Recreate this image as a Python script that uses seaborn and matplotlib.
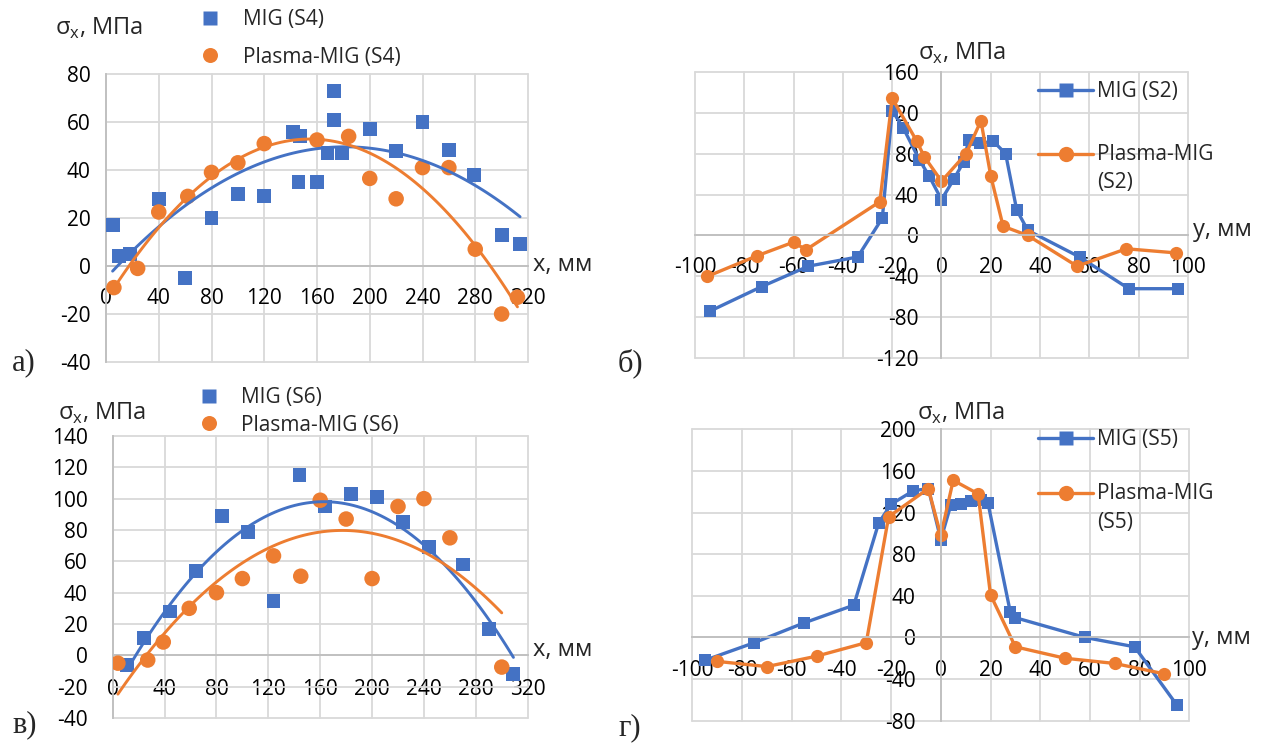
import numpy as np
import matplotlib
matplotlib.use("Agg")
import matplotlib.pyplot as plt
from matplotlib.ticker import MultipleLocator
from matplotlib.lines import Line2D
from matplotlib.legend_handler import HandlerLine2D
import seaborn as sns

# ---- data ----
# а) longitudinal stress along x, sample S4
a_mig_x = [5, 10, 18, 40, 60, 80, 100, 120, 142, 146, 147, 160, 168, 173, 173, 179, 200, 220, 240, 260, 279, 300, 314]
a_mig_y = [17, 4, 5, 28, -5, 20, 30, 29, 56, 35, 54, 35, 47, 73, 61, 47, 57, 48, 60, 48.5, 38, 13, 9]
a_pm_x = [6, 24, 40, 62, 80, 100, 120, 160, 184, 200, 220, 240, 260, 280, 300, 312]
a_pm_y = [-9, -1, 22.5, 29, 39, 43, 51, 52.5, 54, 36.5, 28, 41, 41, 7, -20, -13]

# б) across y, sample S2
b_mig_x = [-94, -73, -54, -34, -24, -20, -15.5, -9, -5, 0, 5, 9, 11, 15.6, 21, 26, 30.5, 35, 56, 76, 96]
b_mig_y = [-74, -50, -30, -21, 17, 122, 105, 74, 58, 35, 55, 72, 93, 90, 92, 80, 25, 5, -21, -52, -52]
b_pm_x = [-95, -75, -60, -55, -25, -20, -10, -7, 0, 10, 16, 20, 25, 35, 55, 75, 95]
b_pm_y = [-40, -20, -6.5, -14, 33, 134, 92, 77, 53, 80, 112, 58, 9, 0, -30, -13, -17]

# в) along x, sample S6
c_mig_x = [11, 24, 44, 64, 84, 104, 124, 144, 164, 184, 204, 224, 244, 270, 290, 309]
c_mig_y = [-6, 11, 28, 54, 89, 79, 34.5, 115, 95, 103, 101, 85, 69, 58, 17, -12]
c_pm_x = [4, 27, 39, 59, 80, 100, 124, 145, 160, 180, 200, 220, 240, 260, 300]
c_pm_y = [-5, -3, 8.5, 30, 40, 49, 63.5, 50.5, 99, 87, 49, 95, 100, 75, -7.5]

# г) across y, sample S5
d_mig_x = [-95, -75, -55, -35, -25, -20, -11, -5, 0, 4, 8, 12, 16, 19, 28, 30, 58, 78, 95]
d_mig_y = [-22, -5, 14, 31, 110, 128, 141, 143, 94, 127, 128, 131, 132, 129, 24, 19, 0, -9, -65]
d_pm_x = [-90, -70, -50, -30, -21, -5, 0, 5, 15, 20, 30, 50, 70, 90]
d_pm_y = [-23, -28, -18, -5, 116, 143, 98, 151, 138, 41, -9, -20, -25, -35]

BLUE = "#4472C4"
ORANGE = "#ED7D31"
GRID = "#d9d9d9"
AXC = "#bfbfbf"
W, H = 1274, 744

sns.set_style("white")
plt.rcParams["font.family"] = ["Open Sans", "DejaVu Sans"]
plt.rcParams["mathtext.fontset"] = "custom"
plt.rcParams["mathtext.rm"] = "Open Sans"
plt.rcParams["font.size"] = 15
plt.rcParams["axes.unicode_minus"] = False

fig = plt.figure(figsize=(W / 100, H / 100), dpi=100)


class HandlerRaised(HandlerLine2D):
    # put the legend handle next to the first line of a two-line label
    def __init__(self, dy, **kw):
        super().__init__(**kw)
        self.dy = dy

    def create_artists(self, legend, orig_handle, xdescent, ydescent, width, height, fontsize, trans):
        arts = super().create_artists(legend, orig_handle, xdescent, ydescent, width, height, fontsize, trans)
        for a in arts:
            a.set_ydata(np.asarray(a.get_ydata()) + self.dy)
        return arts


def px_axes(l, t, r, b):
    return fig.add_axes([l / W, 1 - b / H, (r - l) / W, (b - t) / H])


def ftext(x, y, s, **kw):
    fig.text(x / W, 1 - y / H, s, ha="left", va="center", **kw)


def style(ax, xlim, ylim, xmaj, xmin, ymaj, ymin, xpad, ypad):
    ax.set_xlim(*xlim)
    ax.set_ylim(*ylim)
    ax.xaxis.set_major_locator(MultipleLocator(xmaj))
    ax.xaxis.set_minor_locator(MultipleLocator(xmin))
    ax.yaxis.set_major_locator(MultipleLocator(ymaj))
    ax.yaxis.set_minor_locator(MultipleLocator(ymin))
    ax.grid(True, which="major", color=GRID, lw=1.3)
    ax.set_axisbelow(True)
    for s in ["top", "right"]:
        ax.spines[s].set_visible(False)
    ax.spines["bottom"].set_position(("data", 0))
    ax.spines["left"].set_position(("data", 0))
    for s in ["bottom", "left"]:
        ax.spines[s].set_color(AXC)
        ax.spines[s].set_linewidth(1.3)
    ax.tick_params(which="major", length=0, labelsize=15, colors="black")
    ax.tick_params(which="minor", length=5, width=1.2, color=AXC, direction="out")
    ax.tick_params(axis="x", which="major", pad=xpad)
    ax.tick_params(axis="y", which="major", pad=ypad)
    ax.set_xlabel("")
    ax.set_ylabel("")
    for ln in ax.get_xgridlines() + ax.get_ygridlines():
        ln.set_clip_on(False)


def scatter_panel(ax, mx, my, px, py):
    sns.scatterplot(x=mx, y=my, marker="s", s=100, color=BLUE, edgecolor="none", ax=ax, zorder=3)
    sns.scatterplot(x=px, y=py, marker="o", s=125, color=ORANGE, edgecolor="none", ax=ax, zorder=3)
    sns.regplot(x=mx, y=my, order=2, ci=None, scatter=False, color=BLUE,
                line_kws={"lw": 2.1, "zorder": 4}, ax=ax)
    sns.regplot(x=px, y=py, order=2, ci=None, scatter=False, color=ORANGE,
                line_kws={"lw": 2.1, "zorder": 4}, ax=ax)


def line_panel(ax, mx, my, px, py):
    sns.lineplot(x=mx, y=my, marker="s", markersize=8.5, markeredgewidth=0, color=BLUE,
                 lw=2.4, sort=False, estimator=None, ax=ax)
    sns.lineplot(x=px, y=py, marker="o", markersize=9.5, markeredgewidth=0, color=ORANGE,
                 lw=2.4, sort=False, estimator=None, ax=ax)


def marker_handles(l1, l2, ms):
    return [Line2D([], [], ls="none", marker="s", ms=ms, color=BLUE, mec="none", label=l1),
            Line2D([], [], ls="none", marker="o", ms=ms + 0.8, color=ORANGE, mec="none", label=l2)]


def line_handles(l1, l2):
    return [Line2D([], [], marker="s", ms=10, lw=2.4, color=BLUE, mec="none", label=l1),
            Line2D([], [], marker="o", ms=11, lw=2.4, color=ORANGE, mec="none", label=l2)]


def line_legend(ax, labels, top, spacing, linesp):
    hs = line_handles(*labels)
    leg = ax.legend(handles=hs, loc="upper left",
                    bbox_to_anchor=(1038 / W, 1 - top / H), bbox_transform=fig.transFigure,
                    frameon=False, borderpad=0, borderaxespad=0, handlelength=2.64,
                    handletextpad=0.2, labelspacing=spacing, fontsize=15,
                    handler_map={hs[1]: HandlerRaised(linesp * 15 * 0.5)})
    leg.get_texts()[1].set_linespacing(linesp)
    return leg


# а)
ax1 = px_axes(106, 74, 528, 362)
scatter_panel(ax1, a_mig_x, a_mig_y, a_pm_x, a_pm_y)
style(ax1, (0, 320), (-40, 80), 40, 20, 20, 10, 15.5, 11)
ax1.legend(handles=marker_handles("MIG (S4)", "Plasma-MIG (S4)", 10), loc="upper left",
           bbox_to_anchor=(199.6 / W, 1 - 9.5 / H), bbox_transform=fig.transFigure,
           frameon=False, borderpad=0, borderaxespad=0, handlelength=1.0,
           handletextpad=1.09, labelspacing=0.77, fontsize=15)
ftext(55, 28, "σ$_\\mathregular{x}$, МПа", fontsize=17)
ftext(533, 265, "x, мм", fontsize=17)

# б)
ax2 = px_axes(695, 71.7, 1188, 358.3)
line_panel(ax2, b_mig_x, b_mig_y, b_pm_x, b_pm_y)
style(ax2, (-100, 100), (-120, 160), 20, 10, 40, 20, 15.5, 16.5)
line_legend(ax2, ("MIG (S2)", "Plasma-MIG\n(S2)"), 81.5, 2.0, 1.45)
ftext(918, 53, "σ$_\\mathregular{x}$, МПа", fontsize=17)
ftext(1193, 230, "y, мм", fontsize=17)

# в)
ax3 = px_axes(112.7, 436, 527.7, 718)
scatter_panel(ax3, c_mig_x, c_mig_y, c_pm_x, c_pm_y)
style(ax3, (0, 320), (-40, 140), 40, 20, 20, 10, 17, 18)
ax3.legend(handles=marker_handles("MIG (S6)", "Plasma-MIG (S6)", 10), loc="upper left",
           bbox_to_anchor=(198.6 / W, 1 - 387.5 / H), bbox_transform=fig.transFigure,
           frameon=False, borderpad=0, borderaxespad=0, handlelength=1.0,
           handletextpad=1.04, labelspacing=0.29, fontsize=15)
ftext(58, 413, "σ$_\\mathregular{x}$, МПа", fontsize=17)
ftext(533, 650, "x, мм", fontsize=17)

# г)
ax4 = px_axes(692.3, 429.3, 1189.3, 720.7)
line_panel(ax4, d_mig_x, d_mig_y, d_pm_x, d_pm_y)
style(ax4, (-100, 100), (-80, 200), 20, 10, 40, 20, 16.5, 18)
line_legend(ax4, ("MIG (S5)", "Plasma-MIG\n(S5)"), 429.5, 1.54, 1.5)
ftext(917, 413, "σ$_\\mathregular{x}$, МПа", fontsize=17)
ftext(1192, 638, "y, мм", fontsize=17)

# panel letters
for x, y, s in [(12, 363, "а)"), (618, 363, "б)"), (12, 725, "в)"), (618, 728, "г)")]:
    ftext(x, y, s, fontsize=22, family="Liberation Serif")

fig.savefig("out.png", dpi=100)
